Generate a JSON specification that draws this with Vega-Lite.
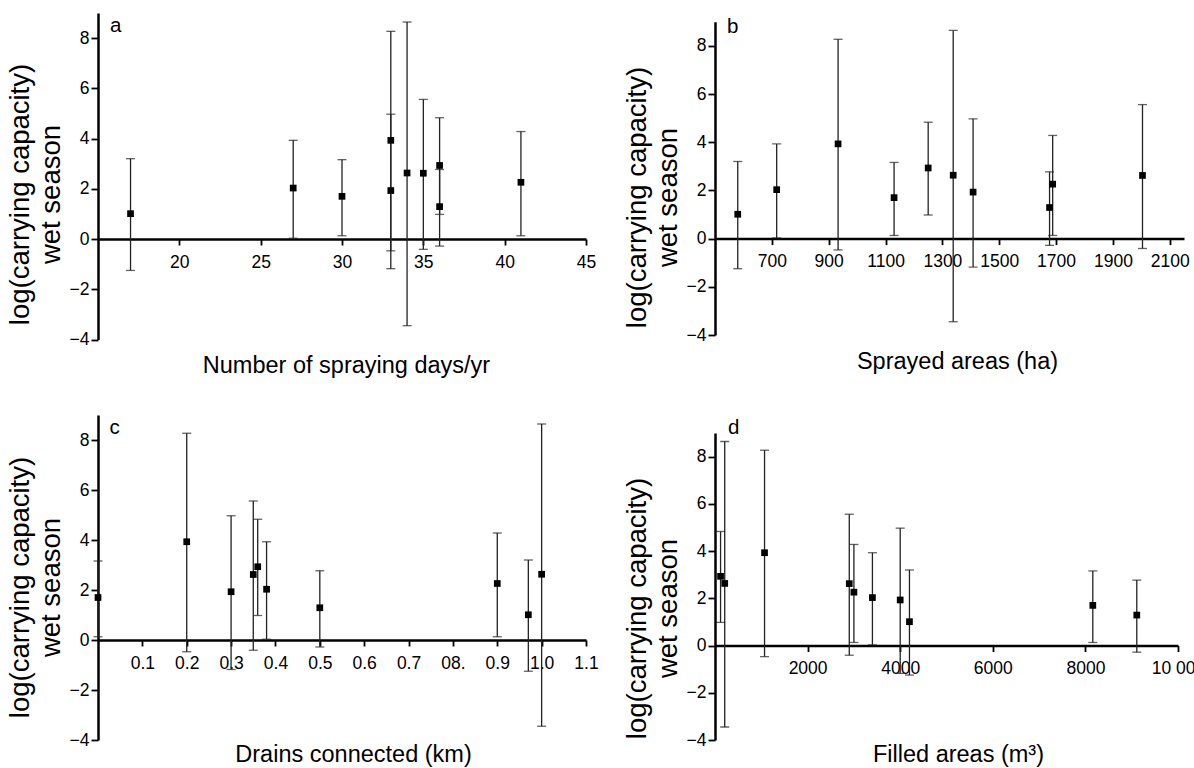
{
  "$schema": "https://vega.github.io/schema/vega-lite/v6.json",
  "padding": {"left": 6, "top": 13, "right": -8, "bottom": 0},
  "config": {
    "font": "Liberation Sans",
    "view": {"stroke": null},
    "axis": {
      "grid": false,
      "domainColor": "#000",
      "tickColor": "#000",
      "labelColor": "#000",
      "titleColor": "#000",
      "labelFont": "Liberation Sans",
      "titleFont": "Liberation Sans",
      "titleFontWeight": "normal",
      "labelFontSize": 17.5,
      "titleFontSize": 23.5,
      "domainWidth": 2.5,
      "tickWidth": 1.8,
      "labelFlush": false,
      "labelOverlap": false
    },
    "axisX": {"tickSize": 6, "labelPadding": 8, "titleBaseline": "alphabetic", "titleAlign": "center"},
    "axisY": {"tickSize": 7, "labelPadding": 2, "titlePadding": 4, "titleFontSize": 27.5, "titleLineHeight": 31}
  },
  "datasets": {
    "sites": [
      {"site": "S1", "days": 17, "area": 580, "drains": 0.97, "filled": 4200, "mean": 1.01, "lo": -1.25, "hi": 3.2},
      {"site": "S2", "days": 27, "area": 717, "drains": 0.38, "filled": 3400, "mean": 2.03, "lo": 0.03, "hi": 3.93},
      {"site": "S3", "days": 33, "area": 933, "drains": 0.2, "filled": 1070, "mean": 3.93, "lo": -0.47, "hi": 8.27},
      {"site": "S4", "days": 30, "area": 1130, "drains": 0.0, "filled": 8160, "mean": 1.7, "lo": 0.13, "hi": 3.16},
      {"site": "S5", "days": 36, "area": 1250, "drains": 0.36, "filled": 120, "mean": 2.93, "lo": 0.98, "hi": 4.83},
      {"site": "S6", "days": 34, "area": 1338, "drains": 1.0, "filled": 210, "mean": 2.63, "lo": -3.45, "hi": 8.64},
      {"site": "S7", "days": 33, "area": 1408, "drains": 0.3, "filled": 4000, "mean": 1.93, "lo": -1.18, "hi": 4.97},
      {"site": "S8", "days": 36, "area": 1677, "drains": 0.5, "filled": 9110, "mean": 1.29, "lo": -0.28, "hi": 2.77},
      {"site": "S9", "days": 41, "area": 1688, "drains": 0.9, "filled": 3000, "mean": 2.26, "lo": 0.13, "hi": 4.28},
      {"site": "S10", "days": 35, "area": 2004, "drains": 0.35, "filled": 2900, "mean": 2.62, "lo": -0.41, "hi": 5.56}
    ]
  },
  "columns": 2,
  "spacing": {"column": 24, "row": 38},
  "concat": [
    {
      "width": 488,
      "height": 326.5,
      "layer": [
        {
          "data": {"name": "sites"},
          "mark": {"type": "rule", "color": "#222", "strokeWidth": 1.3},
          "encoding": {
            "x": {"field": "days", "type": "quantitative", "scale": {"domain": [15, 45], "nice": false, "zero": false},
                  "axis": {"title": "Number of spraying days/yr", "values": [20, 25, 30, 35, 40, 45], "offset": -100.46, "titleX": 248, "titleY": 133}},
            "y": {"field": "lo", "type": "quantitative", "scale": {"domain": [-4, 9], "nice": false, "zero": false},
                  "axis": {"title": ["log(carrying capacity)", "wet season"], "values": [-4, -2, 0, 2, 4, 6, 8], "titleY": 181}},
            "y2": {"field": "hi"}
          }
        },
        {"data": {"name": "sites"}, "mark": {"type": "tick", "orient": "horizontal", "size": 9, "thickness": 1.3, "color": "#222"},
         "encoding": {"x": {"field": "days", "type": "quantitative"}, "y": {"field": "lo", "type": "quantitative"}}},
        {"data": {"name": "sites"}, "mark": {"type": "tick", "orient": "horizontal", "size": 9, "thickness": 1.3, "color": "#222"},
         "encoding": {"x": {"field": "days", "type": "quantitative"}, "y": {"field": "hi", "type": "quantitative"}}},
        {"data": {"name": "sites"}, "mark": {"type": "square", "size": 45, "color": "#000", "opacity": 1, "filled": true},
         "encoding": {"x": {"field": "days", "type": "quantitative"}, "y": {"field": "mean", "type": "quantitative"}}},
        {"data": {"values": [{"panel": "a"}]},
         "mark": {"type": "text", "align": "left", "baseline": "alphabetic", "dx": 12, "dy": 18.5, "fontSize": 20.5, "fill": "#000"},
         "encoding": {"x": {"datum": 15}, "y": {"datum": 9}, "text": {"field": "panel"}}}
      ]
    },
    {
      "width": 469,
      "height": 322,
      "layer": [
        {
          "data": {"name": "sites"},
          "mark": {"type": "rule", "color": "#222", "strokeWidth": 1.3},
          "encoding": {
            "x": {"field": "area", "type": "quantitative", "scale": {"domain": [500, 2150], "nice": false, "zero": false},
                  "axis": {"title": "Sprayed areas (ha)", "values": [700, 900, 1100, 1300, 1500, 1700, 1900, 2100], "format": "d", "offset": -96.4, "titleX": 242, "titleY": 130}},
            "y": {"field": "lo", "type": "quantitative", "scale": {"domain": [-4, 9], "range": [322, 8.7], "nice": false, "zero": false},
                  "axis": {"title": ["log(carrying capacity)", "wet season"], "values": [-4, -2, 0, 2, 4, 6, 8], "titleY": 184}},
            "y2": {"field": "hi"}
          }
        },
        {"data": {"name": "sites"}, "mark": {"type": "tick", "orient": "horizontal", "size": 9, "thickness": 1.3, "color": "#222"},
         "encoding": {"x": {"field": "area", "type": "quantitative"}, "y": {"field": "lo", "type": "quantitative"}}},
        {"data": {"name": "sites"}, "mark": {"type": "tick", "orient": "horizontal", "size": 9, "thickness": 1.3, "color": "#222"},
         "encoding": {"x": {"field": "area", "type": "quantitative"}, "y": {"field": "hi", "type": "quantitative"}}},
        {"data": {"name": "sites"}, "mark": {"type": "square", "size": 45, "color": "#000", "opacity": 1, "filled": true},
         "encoding": {"x": {"field": "area", "type": "quantitative"}, "y": {"field": "mean", "type": "quantitative"}}},
        {"data": {"values": [{"panel": "b"}]},
         "mark": {"type": "text", "align": "left", "baseline": "alphabetic", "dx": 12, "dy": 11.3, "fontSize": 20.5, "fill": "#000"},
         "encoding": {"x": {"datum": 500}, "y": {"datum": 9}, "text": {"field": "panel"}}}
      ]
    },
    {
      "width": 488,
      "height": 325,
      "layer": [
        {
          "data": {"name": "sites"},
          "mark": {"type": "rule", "color": "#222", "strokeWidth": 1.3},
          "encoding": {
            "x": {"field": "drains", "type": "quantitative", "scale": {"domain": [0, 1.1], "nice": false, "zero": false},
                  "axis": {"title": "Drains connected (km)", "values": [0.1, 0.2, 0.3, 0.4, 0.5, 0.6, 0.7, 0.8, 0.9, 1.0, 1.1],
                           "labelExpr": "abs(datum.value - 0.8) < 1e-6 ? '08.' : format(datum.value, '.1f')",
                           "offset": -100, "titleX": 255, "titleY": 121}},
            "y": {"field": "lo", "type": "quantitative", "scale": {"domain": [-4, 9], "nice": false, "zero": false},
                  "axis": {"title": ["log(carrying capacity)", "wet season"], "values": [-4, -2, 0, 2, 4, 6, 8], "titleY": 172}},
            "y2": {"field": "hi"}
          }
        },
        {"data": {"name": "sites"}, "mark": {"type": "tick", "orient": "horizontal", "size": 9, "thickness": 1.3, "color": "#222"},
         "encoding": {"x": {"field": "drains", "type": "quantitative"}, "y": {"field": "lo", "type": "quantitative"}}},
        {"data": {"name": "sites"}, "mark": {"type": "tick", "orient": "horizontal", "size": 9, "thickness": 1.3, "color": "#222"},
         "encoding": {"x": {"field": "drains", "type": "quantitative"}, "y": {"field": "hi", "type": "quantitative"}}},
        {"data": {"name": "sites"}, "mark": {"type": "square", "size": 45, "color": "#000", "opacity": 1, "filled": true},
         "encoding": {"x": {"field": "drains", "type": "quantitative"}, "y": {"field": "mean", "type": "quantitative"}}},
        {"data": {"values": [{"panel": "c"}]},
         "mark": {"type": "text", "align": "left", "baseline": "alphabetic", "dx": 11.5, "dy": 18.7, "fontSize": 20.5, "fill": "#000"},
         "encoding": {"x": {"datum": 0}, "y": {"datum": 9}, "text": {"field": "panel"}}}
      ]
    },
    {
      "width": 463,
      "height": 325,
      "layer": [
        {
          "data": {"name": "sites"},
          "mark": {"type": "rule", "color": "#222", "strokeWidth": 1.3},
          "encoding": {
            "x": {"field": "filled", "type": "quantitative", "scale": {"domain": [0, 10000], "nice": false, "zero": false},
                  "axis": {"title": "Filled areas (m³)", "values": [2000, 4000, 6000, 8000, 10000],
                           "labelExpr": "datum.value == 10000 ? '10 000' : format(datum.value, 'd')",
                           "offset": -94.46, "titleX": 243, "titleY": 116}},
            "y": {"field": "lo", "type": "quantitative", "scale": {"domain": [-4, 9], "range": [325, 18], "nice": false, "zero": false},
                  "axis": {"title": ["log(carrying capacity)", "wet season"], "values": [-4, -2, 0, 2, 4, 6, 8], "titleY": 193}},
            "y2": {"field": "hi"}
          }
        },
        {"data": {"name": "sites"}, "mark": {"type": "tick", "orient": "horizontal", "size": 9, "thickness": 1.3, "color": "#222"},
         "encoding": {"x": {"field": "filled", "type": "quantitative"}, "y": {"field": "lo", "type": "quantitative"}}},
        {"data": {"name": "sites"}, "mark": {"type": "tick", "orient": "horizontal", "size": 9, "thickness": 1.3, "color": "#222"},
         "encoding": {"x": {"field": "filled", "type": "quantitative"}, "y": {"field": "hi", "type": "quantitative"}}},
        {"data": {"name": "sites"}, "mark": {"type": "square", "size": 45, "color": "#000", "opacity": 1, "filled": true},
         "encoding": {"x": {"field": "filled", "type": "quantitative"}, "y": {"field": "mean", "type": "quantitative"}}},
        {"data": {"values": [{"panel": "d"}]},
         "mark": {"type": "text", "align": "left", "baseline": "alphabetic", "dx": 13, "dy": 0.7, "fontSize": 20.5, "fill": "#000"},
         "encoding": {"x": {"datum": 0}, "y": {"datum": 9}, "text": {"field": "panel"}}}
      ]
    }
  ]
}
